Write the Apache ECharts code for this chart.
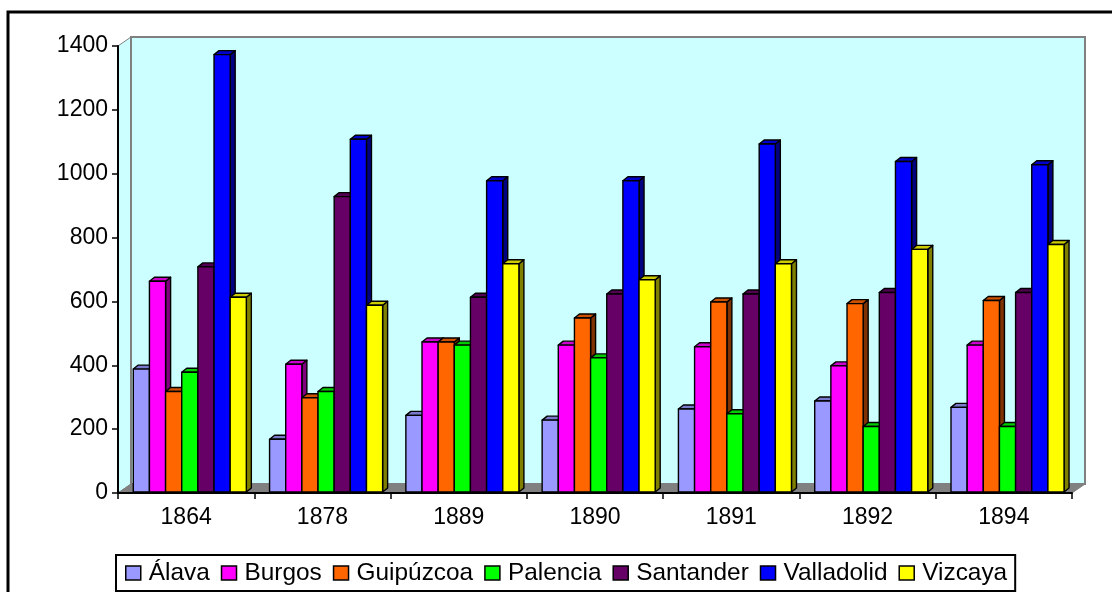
<!DOCTYPE html>
<html>
<head>
<meta charset="utf-8">
<style>html,body{margin:0;padding:0;background:#fff}#c{width:1112px;height:592px}</style>
<script src="https://cdn.jsdelivr.net/npm/echarts@6/dist/echarts.min.js"></script>
</head>
<body>
<div id="c"></div>
<script>
const years = ['1864','1878','1889','1890','1891','1892','1894'];
const alava = [385,165,240,225,260,285,265];
const burgos = [660,400,470,460,455,395,460];
const guipuzcoa = [315,295,470,545,595,590,600];
const palencia = [375,315,460,420,245,205,205];
const santander = [705,925,610,620,620,625,625];
const valladolid = [1370,1105,975,975,1090,1035,1025];
const vizcaya = [610,585,715,665,715,760,775];
const names = ['Álava','Burgos','Guipúzcoa','Palencia','Santander','Valladolid','Vizcaya'];
const colors = ['#9999FF','#FF00FF','#FF6600','#00FF00','#660066','#0000FF','#FFFF00'];
const allSeries = [alava,burgos,guipuzcoa,palencia,santander,valladolid,vizcaya];
const FONT = '"Liberation Sans", Arial, sans-serif';

function shade(hex,f){
  const n=parseInt(hex.slice(1),16);
  return 'rgb('+[(n>>16)&255,(n>>8)&255,n&255].map(v=>Math.round(v*f)).join(',')+')';
}
function barRenderer(si){
  return function(params,api){
    const i=api.value(0), v=api.value(1);
    const band=api.size([1,0])[0];
    const w=band*0.1185, dx=5, dy=4;
    const c0=api.coord([i,0]), c1=api.coord([i,v]);
    const x=c0[0]+3.7-band*0.415+si*w, y0=c0[1]-1, y1=c1[1]-1;
    const col=colors[si];
    const st={stroke:'#000',lineWidth:1.4,lineJoin:'round'};
    return {type:'group',children:[
      {type:'polygon',shape:{points:[[x+w,y1],[x+w+dx,y1-dy],[x+w+dx,y0-dy],[x+w,y0]]},style:Object.assign({fill:shade(col,0.5)},st)},
      {type:'polygon',shape:{points:[[x,y1],[x+dx,y1-dy],[x+w+dx,y1-dy],[x+w,y1]]},style:Object.assign({fill:shade(col,0.8)},st)},
      {type:'rect',shape:{x:x,y:y1,width:w,height:y0-y1},style:Object.assign({fill:col},st)}
    ]};
  };
}
function wallRenderer(params){
  const g=params.coordSys, bx=13, by=-9;
  const L=g.x,T=g.y,R=g.x+g.width,B=g.y+g.height;
  const edge={stroke:'#808080',lineWidth:2};
  return {type:'group',children:[
    {type:'polygon',shape:{points:[[L,T],[L+bx,T+by],[L+bx,B+by],[L,B]]},style:{fill:'#CCFFFF',stroke:'#808080',lineWidth:1}},
    {type:'rect',shape:{x:L+bx,y:T+by,width:g.width,height:g.height},style:Object.assign({fill:'#CCFFFF'},edge)},
    {type:'polygon',shape:{points:[[L,B],[L+bx,B+by],[R+bx,B+by],[R,B]]},style:{fill:'#808080',stroke:'#808080',lineWidth:1}}
  ]};
}
const series=[{type:'custom',name:'walls',renderItem:wallRenderer,data:[[0,0]],encode:{x:0,y:1},silent:true,z:1}];
names.forEach((n,si)=>{
  series.push({type:'custom',name:n,renderItem:barRenderer(si),
    data:allSeries[si].map((v,i)=>[i,v]),encode:{x:0,y:1},
    itemStyle:{color:colors[si]},z:2+si});
});
const chart=echarts.init(document.getElementById('c'),null,{renderer:'canvas'});
chart.setOption({
  animation:false,
  backgroundColor:'#fff',
  grid:{left:118,right:40,top:46,bottom:99,containLabel:false},
  xAxis:{type:'category',data:years,boundaryGap:true,z:20,
    axisLine:{lineStyle:{color:'#000',width:2}},
    axisTick:{show:true,length:6,lineStyle:{color:'#000',width:1.5}},
    axisLabel:{color:'#000',fontFamily:FONT,fontSize:23,margin:13},
    splitLine:{show:false}},
  yAxis:{type:'value',min:0,max:1400,interval:200,z:20,
    axisLine:{show:true,lineStyle:{color:'#000',width:2}},
    axisTick:{show:true,length:6,lineStyle:{color:'#000',width:1.5}},
    axisLabel:{color:'#000',fontFamily:FONT,fontSize:23,margin:10,formatter:function(v){return String(v);}},
    splitLine:{show:false}},
  legend:{data:names,left:116,top:555,orient:'horizontal',
    padding:[6,8,6,9],itemGap:11,itemWidth:15,itemHeight:14,
    borderColor:'#000',borderWidth:2,backgroundColor:'#fff',
    icon:'rect',
    itemStyle:{borderColor:'#000',borderWidth:1.5},
    textStyle:{color:'#000',fontFamily:FONT,fontSize:24.4,padding:[0,0,0,3]}},
  graphic:[{type:'polyline',shape:{points:[[8,592],[8,12],[1112,12]]},style:{stroke:'#000',lineWidth:3,fill:null},silent:true}],
  series:series
});
</script>
</body>
</html>
